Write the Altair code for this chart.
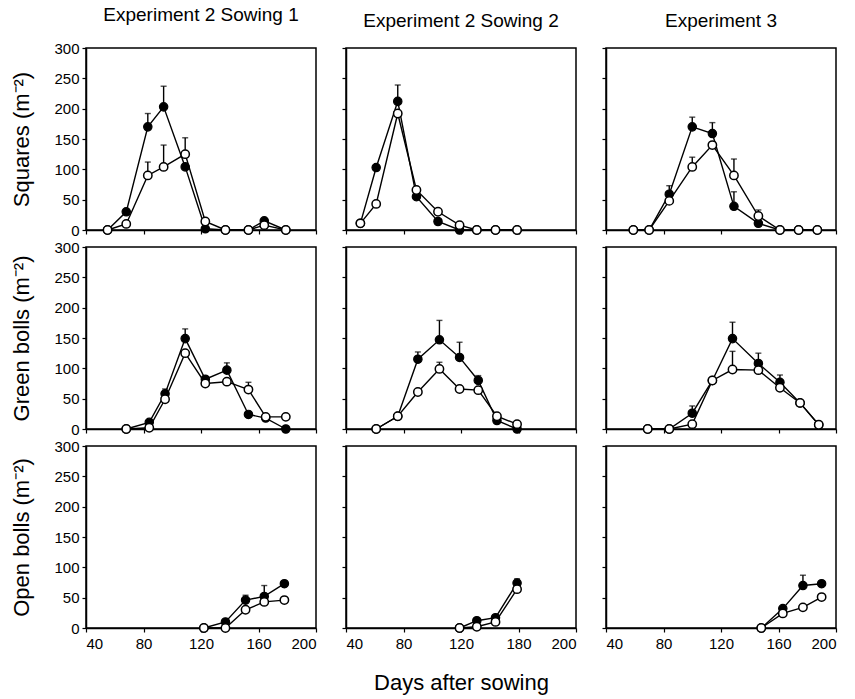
import altair as alt
import pandas as pd

FONT = "Liberation Sans"

# ---------------- Experiment 2 Sowing 1 ----------------
E2S1_SQ_DAYS = [55, 68, 83, 94, 109, 123, 137, 153, 164, 179]
E2S1_SQ_FILLED = [0, 30, 170, 203, 104, 2, 0, 0, 15, 0]
E2S1_SQ_OPEN = [0, 10, 90, 104, 125, 14, 0, 0, 8, 0]
E2S1_SQ_FILLED_UP = [None, None, 192, 237, None, None, None, None, None, None]
E2S1_SQ_OPEN_UP = [None, None, 112, 140, 152, None, None, None, None, None]

E2S1_GB_DAYS = [68, 84, 95, 109, 123, 138, 153, 165, 179]
E2S1_GB_FILLED = [0, 11, 58, 149, 82, 97, 24, 18, 0]
E2S1_GB_OPEN = [0, 2, 49, 125, 75, 78, 65, 20, 20]
E2S1_GB_FILLED_UP = [None, None, 66, 165, None, 109, None, None, None]
E2S1_GB_OPEN_UP = [None, None, None, None, None, None, 77, None, None]

E2S1_OB_DAYS = [122, 137, 151, 164, 178]
E2S1_OB_FILLED = [0, 10, 46, 52, 73]
E2S1_OB_OPEN = [0, 0, 30, 43, 46]
E2S1_OB_FILLED_UP = [None, None, 54, 70, None]
E2S1_OB_OPEN_UP = [None, None, None, None, None]

# ---------------- Experiment 2 Sowing 2 ----------------
E2S2_SQ_DAYS = [50, 61, 76, 89, 104, 119, 131, 144, 159]
E2S2_SQ_FILLED = [11, 103, 212, 55, 14, 0, 0, 0, 0]
E2S2_SQ_OPEN = [11, 43, 192, 66, 30, 8, 0, 0, 0]
E2S2_SQ_FILLED_UP = [None, None, 239, None, None, None, None, None, None]
E2S2_SQ_OPEN_UP = [None, None, None, None, None, None, None, None, None]

E2S2_GB_DAYS = [61, 76, 90, 105, 119, 132, 145, 159]
E2S2_GB_FILLED = [0, 21, 115, 147, 118, 80, 14, 0]
E2S2_GB_OPEN = [0, 21, 61, 99, 66, 64, 21, 8]
E2S2_GB_FILLED_UP = [None, None, 127, 179, 143, 88, None, None]
E2S2_GB_OPEN_UP = [None, None, None, 110, None, None, None, None]

E2S2_OB_DAYS = [119, 131, 144, 159]
E2S2_OB_FILLED = [0, 12, 17, 74]
E2S2_OB_OPEN = [0, 2, 10, 64]
E2S2_OB_FILLED_UP = [None, None, None, 81]
E2S2_OB_OPEN_UP = [None, None, None, None]

# ---------------- Experiment 3 ----------------
E3_SQ_DAYS = [59, 70, 84, 100, 114, 129, 146, 161, 174, 187]
E3_SQ_FILLED = [0, 0, 59, 170, 159, 39, 11, 0, 0, 0]
E3_SQ_OPEN = [0, 0, 48, 104, 140, 90, 23, 0, 0, 0]
E3_SQ_FILLED_UP = [None, None, 73, 186, 177, 63, None, None, None, None]
E3_SQ_OPEN_UP = [None, None, None, 120, None, 117, 33, None, None, None]

E3_GB_DAYS = [69, 84, 100, 114, 128, 146, 161, 175, 188]
E3_GB_FILLED = [0, 0, 26, 80, 149, 108, 77, 43, 7]
E3_GB_OPEN = [0, 0, 8, 80, 98, 97, 68, 43, 7]
E3_GB_FILLED_UP = [None, None, 38, None, 176, 125, 89, None, None]
E3_GB_OPEN_UP = [None, None, None, None, 128, None, None, None, None]

E3_OB_DAYS = [148, 163, 177, 190]
E3_OB_FILLED = [0, 32, 70, 73]
E3_OB_OPEN = [0, 24, 34, 51]
E3_OB_FILLED_UP = [None, None, 87, None]
E3_OB_OPEN_UP = [None, None, None, None]

COLUMN_TITLES = ["Experiment 2 Sowing 1", "Experiment 2 Sowing 2", "Experiment 3"]
ROW_TITLES = ["Squares (m\u207b\u00b2)", "Green bolls (m\u207b\u00b2)", "Open bolls (m\u207b\u00b2)"]
X_TICKS = [40, 80, 120, 160, 200]
Y_TICKS = [0, 50, 100, 150, 200, 250, 300]
X_TITLE = "Days after sowing"

PANELS = [
    [
        (E2S1_SQ_DAYS, E2S1_SQ_FILLED, E2S1_SQ_OPEN, E2S1_SQ_FILLED_UP, E2S1_SQ_OPEN_UP),
        (E2S2_SQ_DAYS, E2S2_SQ_FILLED, E2S2_SQ_OPEN, E2S2_SQ_FILLED_UP, E2S2_SQ_OPEN_UP),
        (E3_SQ_DAYS, E3_SQ_FILLED, E3_SQ_OPEN, E3_SQ_FILLED_UP, E3_SQ_OPEN_UP),
    ],
    [
        (E2S1_GB_DAYS, E2S1_GB_FILLED, E2S1_GB_OPEN, E2S1_GB_FILLED_UP, E2S1_GB_OPEN_UP),
        (E2S2_GB_DAYS, E2S2_GB_FILLED, E2S2_GB_OPEN, E2S2_GB_FILLED_UP, E2S2_GB_OPEN_UP),
        (E3_GB_DAYS, E3_GB_FILLED, E3_GB_OPEN, E3_GB_FILLED_UP, E3_GB_OPEN_UP),
    ],
    [
        (E2S1_OB_DAYS, E2S1_OB_FILLED, E2S1_OB_OPEN, E2S1_OB_FILLED_UP, E2S1_OB_OPEN_UP),
        (E2S2_OB_DAYS, E2S2_OB_FILLED, E2S2_OB_OPEN, E2S2_OB_FILLED_UP, E2S2_OB_OPEN_UP),
        (E3_OB_DAYS, E3_OB_FILLED, E3_OB_OPEN, E3_OB_FILLED_UP, E3_OB_OPEN_UP),
    ],
]

W, H = 230, 182


def make_panel(r, c):
    days, filled, opened, f_up, o_up = PANELS[r][c]
    n = len(days)
    df = pd.DataFrame({
        "day": list(days) * 2,
        "value": list(filled) + list(opened),
        "series": ["filled"] * n + ["open"] * n,
        "upper": [float("nan") if v is None else v for v in list(f_up) + list(o_up)],
    })
    err = df.dropna(subset=["upper"])

    x_axis_kw = dict(values=X_TICKS, grid=False, labels=(r == 2), tickSize=4,
                     labelFontSize=15, labelPadding=4, titlePadding=21,
                     labelOverlap=False)
    if r == 2 and c == 1:
        x_axis_kw["labelExpr"] = "datum.value == 160 ? '180' : datum.label"
    x_kw = dict(scale=alt.Scale(domain=[40, 200], nice=False), axis=alt.Axis(**x_axis_kw))
    if r == 2 and c == 1:
        x_kw["title"] = X_TITLE
    else:
        x_kw["title"] = None

    y_axis_kw = dict(values=Y_TICKS, grid=False, labels=(c == 0), tickSize=4,
                     labelFontSize=15, labelPadding=3, titlePadding=20,
                     labelOverlap=False, tickCount=7)
    y_kw = dict(scale=alt.Scale(domain=[0, 300], nice=False), axis=alt.Axis(**y_axis_kw))
    if c == 0:
        y_kw["title"] = ROW_TITLES[r]
    else:
        y_kw["title"] = None

    X = alt.X("day:Q", **x_kw)
    Y = alt.Y("value:Q", **y_kw)
    YU = alt.Y("upper:Q", **y_kw)

    base = alt.Chart(df)
    lines = base.mark_line(color="black", strokeWidth=1.4).encode(
        x=X, y=Y, detail="series:N", order="day:Q")
    ebase = alt.Chart(err)
    rules = ebase.mark_rule(color="black", strokeWidth=1.4).encode(
        x=X, y=Y, y2="upper:Q")
    caps = ebase.mark_tick(color="black", orient="horizontal", size=6, thickness=1.4).encode(
        x=X, y=YU)
    pts_f = base.transform_filter(alt.datum.series == "filled").mark_point(
        shape="circle", filled=True, fill="black", stroke="black", strokeWidth=1.2,
        size=70, opacity=1).encode(x=X, y=Y)
    pts_o = base.transform_filter(alt.datum.series == "open").mark_point(
        shape="circle", filled=True, fill="white", stroke="black", strokeWidth=1.5,
        size=70, opacity=1).encode(x=X, y=Y)

    props = dict(width=W, height=H)
    if r == 0:
        props["title"] = alt.TitleParams(COLUMN_TITLES[c], fontSize=19, font=FONT,
                                         fontWeight="normal", anchor="middle", offset=16,
                                         color="black")
    return alt.layer(lines, rules, caps, pts_f, pts_o).properties(**props)


panels = [make_panel(r, c) for r in range(3) for c in range(3)]

chart = alt.concat(
    *panels, columns=3, spacing={"row": 17, "column": 30}, bounds="flush",
    background="white",
    padding={"left": 10, "top": 5, "right": 5, "bottom": 5},
).configure_view(
    stroke="black", strokeWidth=1.5
).configure_axis(
    domainColor="black", domainWidth=1.5, tickColor="black", tickWidth=1.2,
    labelFont=FONT, labelColor="black", titleFont=FONT, titleColor="black",
    titleFontSize=22, titleFontWeight="normal", labelOverlap=False
)

chart.save("out.html", embed_options={"renderer": "svg", "actions": False})
